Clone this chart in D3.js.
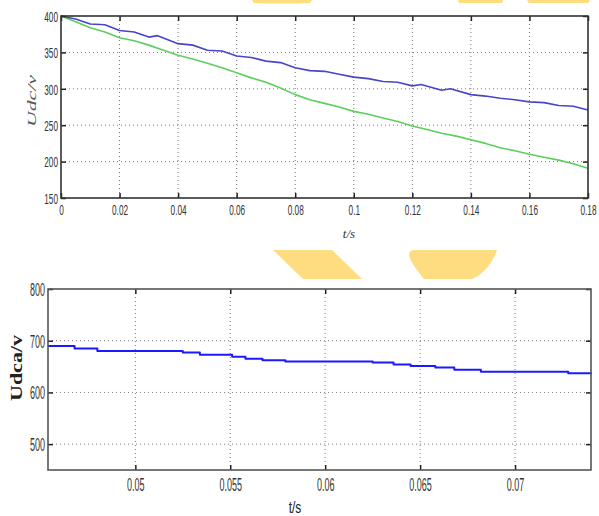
<!DOCTYPE html>
<html><head><meta charset="utf-8">
<script src="https://cdn.jsdelivr.net/npm/d3@7"></script>
<style>
body{margin:0;background:#fff;}
svg{display:block;}
</style></head>
<body>
<svg id="c" width="599" height="516"></svg>
<script>
// ---- data ----
const topXTicks = [0,0.02,0.04,0.06,0.08,0.1,0.12,0.14,0.16,0.18];
const topXLabels = ["0","0.02","0.04","0.06","0.08","0.1","0.12","0.14","0.16","0.18"];
const topYTicks = [150,200,250,300,350,400];
const topBlue = [[0,400],[0.005,396],[0.01,389],[0.015,388],[0.02,380],[0.025,378],[0.03,371],[0.033,373],[0.04,362],[0.045,360],[0.05,353],[0.055,352],[0.06,345],[0.065,343],[0.07,338],[0.075,336],[0.08,329],[0.085,325],[0.09,324],[0.095,320],[0.1,316],[0.105,314],[0.11,310],[0.115,309],[0.12,304],[0.123,306],[0.13,298],[0.133,300],[0.14,292],[0.145,290],[0.15,287],[0.155,285],[0.16,282],[0.165,281],[0.17,277],[0.175,276],[0.18,271]];
const topGreen = [[0,400],[0.005,392],[0.01,384],[0.015,378],[0.02,370],[0.025,366],[0.03,360],[0.035,353],[0.04,346],[0.045,341],[0.05,335],[0.055,329],[0.06,322],[0.065,315],[0.07,309],[0.075,301],[0.08,292],[0.085,285],[0.09,280],[0.095,275],[0.1,269],[0.105,265],[0.11,260],[0.115,255],[0.12,249],[0.125,244],[0.13,239],[0.135,235],[0.14,230],[0.145,225],[0.15,219],[0.155,215],[0.16,210],[0.165,206],[0.17,202],[0.175,197],[0.18,191]];
const botXTicks = [0.05,0.055,0.06,0.065,0.07];
const botXLabels = ["0.05","0.055","0.06","0.065","0.07"];
const botYTicks = [500,600,700,800];
const botBlue = [[0.0454,690],[0.0468,685],[0.0480,680],[0.0525,677],[0.0534,673],[0.0551,669],[0.0558,665],[0.0567,662],[0.0579,660],[0.0625,658],[0.0636,654],[0.0645,651],[0.0658,648],[0.0668,644],[0.0682,640],[0.0728,637],[0.0740,635]];

const svg = d3.select("#c");

// decorative yellow shapes
const yel = "#fedc80";
svg.append("path").attr("fill",yel).attr("d","M252,0 L312,0 L310,3 Q282,4 254,3 Z");
svg.append("path").attr("fill",yel).attr("d","M458,0 L503,0 L502,3 L459,3 Z");
svg.append("path").attr("fill",yel).attr("d","M527,0 L590,0 L588,3 L529,3 Z");
svg.append("path").attr("fill",yel).attr("d","M273,250 L332,250 L362,279 L303,279 Z");
svg.append("path").attr("fill",yel).attr("d","M413,250 L497,250 Q490,271 472,279 L424,279 Q410,262 409,255 Q409,251 413,250 Z");

function panel(o){
  const x = d3.scaleLinear().domain(o.xd).range([o.l,o.r]);
  const y = d3.scaleLinear().domain(o.yd).range([o.b,o.t]);
  const g = svg.append("g");
  // grid
  g.selectAll(".vg").data(o.xt.filter(v=>x(v)>o.l+1 && x(v)<o.r-1)).join("line")
    .attr("x1",d=>x(d)).attr("x2",d=>x(d)).attr("y1",o.t).attr("y2",o.b)
    .attr("stroke","#777").attr("stroke-width",1).attr("stroke-dasharray","1,3");
  g.selectAll(".hg").data(o.yt.filter(v=>y(v)>o.t+1 && y(v)<o.b-1)).join("line")
    .attr("x1",o.l).attr("x2",o.r).attr("y1",d=>y(d)).attr("y2",d=>y(d))
    .attr("stroke","#777").attr("stroke-width",1).attr("stroke-dasharray","1,3");
  // lines
  o.series.forEach(s=>{
    g.append("path").datum(s.data).attr("fill","none").attr("stroke",s.color)
      .attr("stroke-width",s.w).attr("stroke-linejoin","round")
      .attr("d",d3.line().curve(s.curve||d3.curveLinear).x(d=>x(d[0])).y(d=>y(d[1])));
  });
  // axes
  const bx = g.append("g").attr("transform",`translate(0,${o.b})`)
    .call(d3.axisBottom(x).tickValues(o.xt).tickFormat((d,i)=>o.xl[i]).tickSizeInner(-5).tickSizeOuter(0).tickPadding(o.xpad));
  const tx = g.append("g").attr("transform",`translate(0,${o.t})`)
    .call(d3.axisTop(x).tickValues(o.xt).tickFormat("").tickSizeInner(-5).tickSizeOuter(0));
  const ly = g.append("g").attr("transform",`translate(${o.l},0)`)
    .call(d3.axisLeft(y).tickValues(o.yt).tickSizeInner(-5).tickSizeOuter(0));
  const ry = g.append("g").attr("transform",`translate(${o.r},0)`)
    .call(d3.axisRight(y).tickValues(o.yt).tickFormat("").tickSizeInner(-5).tickSizeOuter(0));
  [bx,tx,ly,ry].forEach(a=>{
    a.select(".domain").remove();
    a.selectAll(".tick line").attr("stroke","#222").attr("stroke-width",1.5);
  });
  [bx,ly].forEach(a=>a.selectAll("text").attr("font-family","Liberation Sans, Arial, sans-serif")
      .attr("font-size",o.fs).attr("fill","#333"));
  bx.selectAll("text").attr("transform",`scale(${o.sx},1)`).attr("dy","0.71em");
  ly.selectAll("text").attr("transform",`scale(${o.sx},1)`).attr("x",-(o.ypad)/o.sx).attr("dy","0.35em");
  g.append("rect").attr("x",o.l).attr("y",o.t).attr("width",o.r-o.l).attr("height",o.b-o.t)
    .attr("fill","none").attr("stroke",o.box).attr("stroke-width",1.6);
  return {x,y};
}

panel({l:61,r:588,t:16,b:198,xd:[0,0.18],yd:[150,400],xt:topXTicks,xl:topXLabels,yt:topYTicks,
  fs:15,sx:0.55,xpad:6,ypad:3,box:"#333",
  series:[{data:topGreen,color:"#5ccf5c",w:1.6},{data:topBlue,color:"#4646c8",w:1.6}]});

panel({l:48,r:591,t:289,b:470,xd:[0.0454,0.074],yd:[450,800],xt:botXTicks,xl:botXLabels,yt:botYTicks,
  fs:18,sx:0.5,xpad:8,ypad:3,box:"#555",
  series:[{data:botBlue,color:"#1a1aff",w:2,curve:d3.curveStepAfter}]});

// axis titles
svg.append("text").attr("x",349).attr("y",238).attr("text-anchor","middle")
  .attr("font-family","Liberation Serif, serif").attr("font-style","italic").attr("font-size",13)
  .attr("fill","#333").text("t/s");
svg.append("text").attr("transform","translate(36,101) rotate(-90)").attr("text-anchor","middle")
  .attr("font-family","Liberation Serif, serif").attr("font-style","italic").attr("font-size",13)
  .attr("fill","#555").attr("textLength",52).attr("lengthAdjust","spacingAndGlyphs").text("Udc/v");
svg.append("text").attr("x",295).attr("y",513).attr("text-anchor","middle")
  .attr("font-family","Liberation Sans, sans-serif").attr("font-size",16)
  .attr("transform","translate(295,0) scale(0.75,1) translate(-295,0)")
  .attr("fill","#222").text("t/s");
svg.append("text").attr("transform","translate(22,368) rotate(-90)").attr("text-anchor","middle")
  .attr("font-family","Liberation Serif, serif").attr("font-weight","bold").attr("font-size",17)
  .attr("fill","#222").attr("textLength",66).attr("lengthAdjust","spacingAndGlyphs").text("Udca/v");
</script>
</body></html>
